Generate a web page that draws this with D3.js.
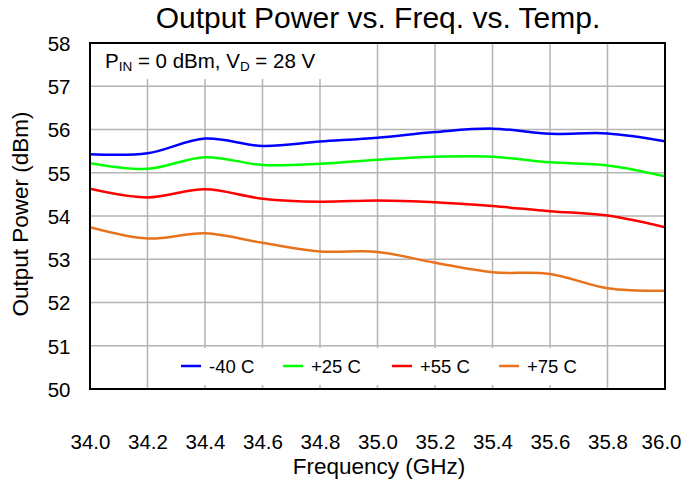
<!DOCTYPE html>
<html><head><meta charset="utf-8">
<script src="https://cdn.jsdelivr.net/npm/d3@7"></script>
<style>
html,body{margin:0;padding:0;background:#fff;}
text{font-family:"Liberation Sans",Arial,sans-serif;fill:#000;}
</style></head>
<body><svg id="c" width="683" height="484"></svg>
<script>
const freqs = [34.0, 34.2, 34.4, 34.6, 34.8, 35.0, 35.2, 35.4, 35.6, 35.8, 36.0];
const seriesNames = ["-40 C", "+25 C", "+55 C", "+75 C"];
const seriesColors = ["#0000ff", "#00ff00", "#ff0000", "#e8731c"];
const m40 = [55.43, 55.45, 55.79, 55.62, 55.72, 55.81, 55.94, 56.02, 55.90, 55.91, 55.73];
const p25 = [55.22, 55.09, 55.36, 55.18, 55.21, 55.30, 55.37, 55.37, 55.24, 55.17, 54.92];
const p55 = [54.63, 54.43, 54.62, 54.40, 54.33, 54.36, 54.32, 54.23, 54.11, 54.01, 53.74];
const p75 = [53.74, 53.48, 53.60, 53.38, 53.18, 53.17, 52.92, 52.70, 52.66, 52.33, 52.27];
const seriesValues = [m40, p25, p55, p75];
const xTicks = [34.0, 34.2, 34.4, 34.6, 34.8, 35.0, 35.2, 35.4, 35.6, 35.8, 36.0];
const yTicks = [50, 51, 52, 53, 54, 55, 56, 57, 58];

const svg = d3.select("#c");
const L = 90, R = 665, T = 43, B = 389;
const x = d3.scaleLinear().domain([34, 36]).range([L, R]);
const y = d3.scaleLinear().domain([50, 58]).range([B, T]);

// gridlines
const g = svg.append("g");
g.selectAll("line.v").data(xTicks).enter().append("line")
  .attr("x1", d => x(d)).attr("x2", d => x(d)).attr("y1", T).attr("y2", B)
  .attr("stroke", "#b4b4b4").attr("stroke-width", 1.5);
g.selectAll("line.h").data(yTicks).enter().append("line")
  .attr("x1", L).attr("x2", R).attr("y1", d => y(d)).attr("y2", d => y(d))
  .attr("stroke", "#b4b4b4").attr("stroke-width", 1.5);

// annotation box
svg.append("rect").attr("x", L + 1).attr("y", T + 1).attr("width", 272).attr("height", 35).attr("fill", "#fff");
const ann = svg.append("text").attr("x", 105).attr("y", 68).attr("font-size", 20.5);
ann.append("tspan").text("P");
ann.append("tspan").attr("font-size", 13.5).attr("dy", 3).text("IN");
ann.append("tspan").attr("dy", -3).text(" = 0 dBm, V");
ann.append("tspan").attr("font-size", 13.5).attr("dy", 3).text("D");
ann.append("tspan").attr("dy", -3).text(" = 28 V");

// legend box
svg.append("rect").attr("x", 150).attr("y", 348).attr("width", 456).attr("height", 37).attr("fill", "#fff");
const legX = [181, 283, 392, 499];
seriesNames.forEach((n, i) => {
  svg.append("line").attr("x1", legX[i]).attr("x2", legX[i] + 20).attr("y1", 366).attr("y2", 366)
    .attr("stroke", seriesColors[i]).attr("stroke-width", 2.5);
  svg.append("text").attr("x", legX[i] + 28).attr("y", 372.5).attr("font-size", 18.5).text(n);
});

// lines
const line = d3.line().x((d, i) => x(freqs[i])).y(d => y(d)).curve(d3.curveCatmullRom.alpha(0.5));
svg.append("defs").append("clipPath").attr("id", "clip").append("rect")
  .attr("x", L).attr("y", T).attr("width", R - L).attr("height", B - T);
seriesValues.forEach((vals, i) => {
  svg.append("path").attr("d", line(vals)).attr("fill", "none")
    .attr("stroke", seriesColors[i]).attr("stroke-width", 2.5).attr("clip-path", "url(#clip)");
});

// frame
svg.append("rect").attr("x", L).attr("y", T).attr("width", R - L).attr("height", B - T)
  .attr("fill", "none").attr("stroke", "#000").attr("stroke-width", 2);

// axes
const xAxis = d3.axisBottom(x).tickValues(xTicks).tickFormat(d3.format(".1f")).tickSize(0).tickPadding(0);
const xa = svg.append("g").attr("transform", `translate(0,${B})`).call(xAxis);
xa.select(".domain").remove();
xa.selectAll("text").attr("font-size", 20.5).attr("dy", null).attr("y", 60).attr("font-family", "Liberation Sans, Arial, sans-serif").attr("fill", "#000");
xa.selectAll(".tick").filter(d => d === 36.0).select("text").attr("text-anchor", "end").attr("x", 16);

const yAxis = d3.axisLeft(y).tickValues(yTicks).tickSize(0).tickPadding(0);
const ya = svg.append("g").attr("transform", `translate(${L},0)`).call(yAxis);
ya.select(".domain").remove();
ya.selectAll("text").attr("font-size", 20.5).attr("x", -19.5).attr("dy", "0.36em").attr("font-family", "Liberation Sans, Arial, sans-serif").attr("fill", "#000");

// titles
svg.append("text").attr("x", 378).attr("y", 28).attr("text-anchor", "middle").attr("font-size", 30)
  .text("Output Power vs. Freq. vs. Temp.");
svg.append("text").attr("x", 379).attr("y", 474).attr("text-anchor", "middle").attr("font-size", 22.5)
  .text("Frequency (GHz)");
svg.append("text").attr("transform", "translate(27.5,214) rotate(-90)").attr("text-anchor", "middle").attr("font-size", 22.5)
  .text("Output Power (dBm)");
</script></body></html>
